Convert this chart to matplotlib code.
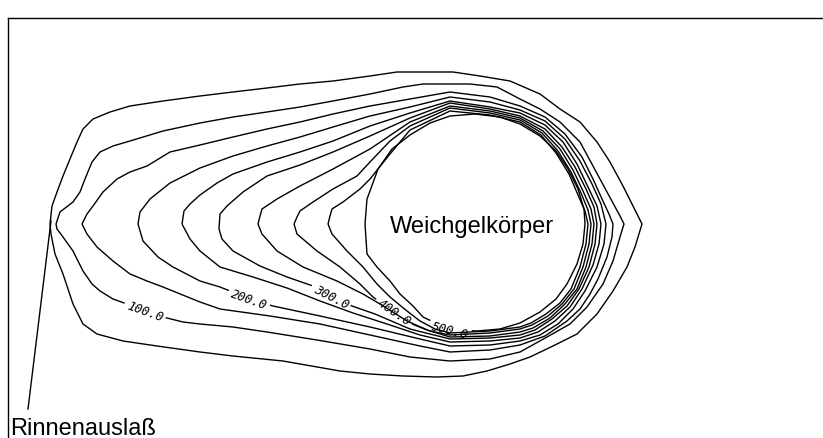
import matplotlib
matplotlib.use("Agg")
import numpy as np
import matplotlib.pyplot as plt
from matplotlib.contour import ContourSet

# Isolinien (Zeichnungskoordinaten, y nach unten)
levels = [50, 100, 150, 200, 250, 300, 350, 400, 450, 500]

a_x = [50, 52, 57, 63, 70, 77, 83, 93, 110, 130, 163, 200, 233, 267, 300, 333, 370, 397, 420, 453, 480, 510, 540, 560, 580, 597, 610, 623, 633, 642,
       635, 627, 613, 597, 577, 553, 530, 510, 487, 463, 437, 403, 370, 340, 283, 233, 200, 157, 123, 97, 83, 73, 63, 55, 51, 50]
a_y = [225, 207, 193, 177, 160, 143, 130, 120, 113, 107, 102, 97, 93, 89, 85, 82, 77, 73, 73, 73, 77, 82, 95, 110, 123, 143, 163, 187, 207, 225,
       248, 268, 292, 315, 335, 347, 358, 365, 372, 377, 378, 377, 375, 372, 362, 357, 353, 347, 342, 335, 325, 305, 275, 255, 235, 225]

b_x = [56, 60, 73, 80, 85, 92, 100, 113, 130, 163, 200, 233, 267, 300, 333, 370, 403, 423, 450, 470, 497, 520, 540, 560, 580, 593, 607, 620, 624,
       620, 613, 603, 587, 570, 547, 520, 490, 450, 410, 370, 317, 267, 233, 200, 183, 163, 145, 127, 113, 100, 92, 83, 73, 63, 57, 56]
b_y = [225, 213, 203, 193, 180, 163, 153, 147, 142, 132, 124, 118, 113, 108, 102, 95, 88, 85, 85, 85, 88, 100, 110, 123, 143, 167, 193, 217, 225,
       238, 262, 285, 308, 325, 338, 353, 360, 362, 358, 350, 341, 333, 328, 325, 323, 318, 312, 305, 300, 292, 285, 272, 252, 238, 230, 225]

c_x = [82, 87, 93, 103, 117, 130, 147, 170, 200, 233, 267, 300, 333, 370, 410, 450, 490, 520, 545, 565, 582, 593, 602, 609, 613,
       612, 607, 598, 590, 580, 567, 545, 520, 490, 450, 420, 370, 320, 270, 220, 200, 163, 147, 130, 113, 97, 87, 82]
c_y = [225, 215, 207, 193, 180, 173, 167, 153, 146, 138, 130, 123, 115, 107, 100, 93, 98, 107, 118, 135, 158, 180, 200, 215, 225,
       238, 258, 280, 295, 310, 322, 337, 346, 351, 353, 347, 336, 325, 317, 310, 303, 288, 282, 275, 262, 248, 235, 225]

d_x = [138, 140, 150, 170, 200, 233, 267, 300, 333, 370, 410, 450, 490, 520, 545, 565, 580, 592, 601, 606,
       604, 597, 585, 573, 558, 540, 520, 490, 450, 420, 370, 320, 273, 249, 230, 220, 200, 173, 158, 143, 138]
d_y = [225, 213, 200, 184, 169, 157, 147, 138, 128, 117, 108, 98, 103, 111, 122, 140, 162, 185, 205, 225,
       245, 268, 292, 310, 325, 336, 342, 346, 347, 340, 328, 317, 307, 300, 292, 288, 282, 268, 258, 242, 225]

e_x = [182, 184, 190, 200, 217, 233, 267, 300, 333, 370, 410, 450, 490, 520, 545, 563, 577, 588, 597, 601,
       599, 593, 582, 570, 555, 538, 520, 490, 450, 420, 387, 353, 320, 287, 253, 220, 200, 190, 182]
e_y = [225, 212, 205, 196, 184, 175, 163, 153, 142, 127, 114, 102, 108, 114, 126, 143, 165, 188, 207, 225,
       245, 266, 290, 308, 322, 333, 339, 342, 343, 336, 325, 314, 302, 289, 278, 268, 252, 240, 225]

f_x = [219, 220, 227, 243, 267, 300, 333, 370, 410, 450, 490, 520, 545, 562, 575, 586, 594, 597,
       595, 589, 579, 567, 552, 535, 520, 490, 450, 410, 375, 352, 331, 313, 287, 260, 233, 222, 219]
f_y = [230, 215, 207, 193, 177, 166, 153, 137, 119, 104, 110, 117, 130, 148, 168, 190, 208, 225,
       245, 268, 290, 307, 320, 331, 336, 339, 340, 330, 315, 307, 297, 287, 278, 267, 252, 240, 230]

g_x = [258, 260, 262, 277, 300, 333, 370, 410, 450, 490, 520, 543, 560, 573, 583, 591, 594,
       592, 586, 577, 564, 550, 533, 520, 490, 450, 427, 407, 380, 363, 337, 303, 277, 262, 258]
g_y = [225, 217, 210, 200, 187, 170, 150, 123, 107, 112, 119, 132, 150, 171, 192, 210, 225,
       245, 268, 290, 306, 319, 329, 333, 337, 338, 331, 322, 305, 295, 282, 268, 252, 235, 225]

h_x = [294, 297, 300, 313, 333, 357, 370, 390, 410, 450, 490, 520, 542, 558, 571, 581, 588, 591,
       589, 583, 574, 562, 548, 532, 520, 490, 450, 430, 412, 394, 373, 360, 340, 317, 297, 294]
h_y = [225, 218, 212, 203, 190, 177, 163, 142, 127, 109, 114, 121, 134, 152, 173, 194, 211, 225,
       245, 268, 290, 305, 317, 326, 330, 334, 336, 332, 325, 313, 298, 285, 268, 252, 235, 225]

i_x = [328, 330, 332, 343, 360, 370, 390, 410, 450, 490, 520, 541, 556, 569, 578, 585, 588,
       586, 580, 571, 560, 546, 531, 520, 490, 450, 435, 420, 407, 390, 377, 363, 347, 332, 328]
i_y = [225, 217, 210, 203, 190, 180, 155, 131, 112, 116, 123, 136, 154, 175, 196, 212, 225,
       245, 268, 290, 304, 315, 324, 328, 332, 334, 330, 322, 312, 298, 285, 268, 252, 235, 225]

j_x = [365, 367, 370, 378, 392, 410, 430, 450, 475, 500, 520, 540, 556, 568, 578, 584, 585,
       583, 577, 567, 556, 540, 520, 500, 477, 450, 423, 413, 400, 390, 377, 367, 365]
j_y = [225, 200, 192, 170, 150, 136, 124, 117, 115, 118, 125, 137, 152, 170, 190, 210, 225,
       245, 265, 285, 300, 313, 324, 330, 332, 331, 318, 307, 295, 282, 268, 255, 225]

label_pos = [(145, 312), (249, 300), (331, 297), (394, 313), (450, 331)]

lines_x = [a_x, b_x, c_x, d_x, e_x, f_x, g_x, h_x, i_x, j_x]
lines_y = [a_y, b_y, c_y, d_y, e_y, f_y, g_y, h_y, i_y, j_y]

fig = plt.figure(figsize=(8.23, 4.39), dpi=100)
ax = fig.add_axes([8 / 823, 0, 1 - 8 / 823, (439 - 19) / 439])
ax.set_xlim(8, 823)
ax.set_ylim(439, 19)
ax.set_xticks([])
ax.set_yticks([])
for s in ['right', 'bottom']:
    ax.spines[s].set_visible(False)
for s in ['left', 'top']:
    ax.spines[s].set_linewidth(1.0)

allsegs = [[np.column_stack([lx, ly])] for lx, ly in zip(lines_x, lines_y)]
plt.rcParams['font.family'] = 'DejaVu Sans Mono'
cs = ContourSet(ax, levels, allsegs, colors='k', linewidths=1.0)
lbls = ax.clabel(cs, manual=label_pos, inline=True,
                 inline_spacing=3, fmt='%.1f', fontsize=9)
for t in lbls:
    t.set_fontstyle('oblique')

ax.text(472, 233, 'Weichgelkörper', ha='center', va='baseline',
        fontsize=17, family='Liberation Sans')
ax.text(10, 435, 'Rinnenauslaß', ha='left', va='baseline',
        fontsize=17, family='Liberation Sans')
ax.plot([28, 51], [410, 222], color='k', lw=1.0)

fig.savefig('out.png', dpi=100)
